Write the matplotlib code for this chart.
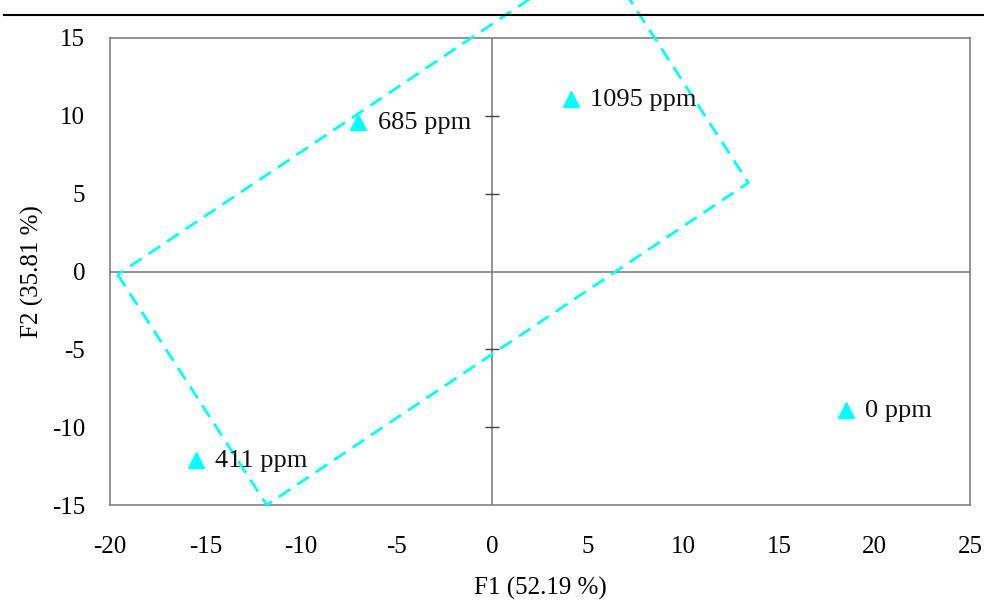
import matplotlib.pyplot as plt

# PCA scores (F1, F2) for each dose
labels = ['0 ppm', '411 ppm', '685 ppm', '1095 ppm']
f1_scores = [18.5, -15.5, -7.0, 4.1]
f2_scores = [-8.9, -12.1, 9.6, 11.1]

# corners of the dashed grouping rectangle (closed loop)
rect_x = [-19.6, -11.8, 13.4, 5.6, -19.6]
rect_y = [-0.2, -15.0, 5.7, 20.5, -0.2]

x_ticks = [-20, -15, -10, -5, 0, 5, 10, 15, 20, 25]
y_ticks = [-15, -10, -5, 0, 5, 10, 15]
inner_ticks = [-10, -5, 5, 10]  # tick marks drawn on the vertical zero line

plt.rcParams['font.family'] = ['Liberation Serif', 'DejaVu Serif']
plt.rcParams['axes.unicode_minus'] = False

fig = plt.figure(figsize=(9.84, 6.02), dpi=100)
ax = fig.add_axes([0.1118, 0.1611, 0.8740, 0.7758])

# zero lines
ax.axhline(0, color='#808080', linewidth=1.2, zorder=1)
ax.axvline(0, color='#808080', linewidth=1.2, zorder=1)
ax.plot([0] * len(inner_ticks), inner_ticks, linestyle='none', marker='_',
        markersize=10, markeredgewidth=1.0, color='#404040', zorder=2)

# dashed rectangle, allowed to run past the frame
ax.plot(rect_x, rect_y, color='#00FFFF', linewidth=2, linestyle=(0, (5, 3)),
        clip_on=False, zorder=3)

# points + labels
ax.plot(f1_scores, f2_scores, linestyle='none', marker='^', markersize=12,
        color='#00FFFF', zorder=4)
for x, y, lab in zip(f1_scores, f2_scores, labels):
    ax.annotate(lab, (x, y), xytext=(14, -1), textcoords='offset points',
                va='center', ha='left', fontsize=19, color='#111111')

ax.set_xlim(-20, 25)
ax.set_ylim(-15, 15)
ax.set_xticks(x_ticks)
ax.set_yticks(y_ticks)
ax.tick_params(length=0, labelsize=18, pad=22)
ax.tick_params(axis='y', pad=18)
for s in ax.spines.values():
    s.set_color('#808080')
    s.set_linewidth(1.2)

ax.set_xlabel('F1 (52.19 %)', fontsize=18, labelpad=14)
ax.set_ylabel('F2 (35.81 %)', fontsize=18)
ax.yaxis.set_label_coords(-0.077, 0.5)

# thin rule across the top of the figure
fig.add_artist(plt.Line2D([0.004, 1.0], [0.975, 0.975], color='black', linewidth=1.5))

fig.savefig('out.png', dpi=100)
